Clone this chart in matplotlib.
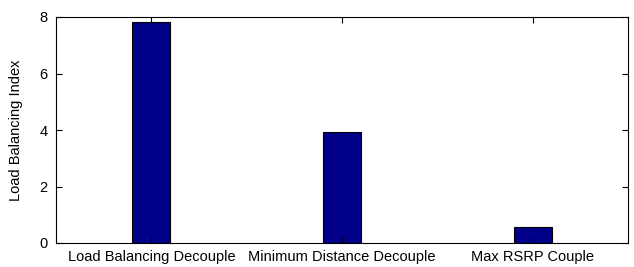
import matplotlib
matplotlib.use('Agg')
import matplotlib.pyplot as plt

categories = ['Load Balancing Decouple', 'Minimum Distance Decouple', 'Max RSRP Couple']
values = [7.83, 3.94, 0.56]
positions = [1, 2, 3]

plt.rcParams['font.family'] = ['Liberation Sans', 'DejaVu Sans']

fig = plt.figure(figsize=(6.34, 2.67), dpi=100)
ax = fig.add_axes([56 / 634, 1 - 243 / 267, (628 - 56) / 634, (243 - 17) / 267])

ax.bar(positions, values, width=0.2, color='#000088', edgecolor='black', linewidth=0.8)

ax.set_xlim(0.5, 3.5)
ax.set_ylim(0, 8)
ax.set_xticks(positions)
ax.set_xticklabels(categories, fontsize=10.5)
ax.set_yticks([0, 2, 4, 6, 8])
ax.tick_params(axis='y', labelsize=10.5, pad=6)
ax.tick_params(axis='x', pad=5)
ax.tick_params(direction='in', top=True, right=True, length=4, width=0.8)
ax.set_ylabel('Load Balancing Index', fontsize=10.5, labelpad=12)
for s in ax.spines.values():
    s.set_linewidth(0.8)

fig.savefig('out.png', dpi=100)
